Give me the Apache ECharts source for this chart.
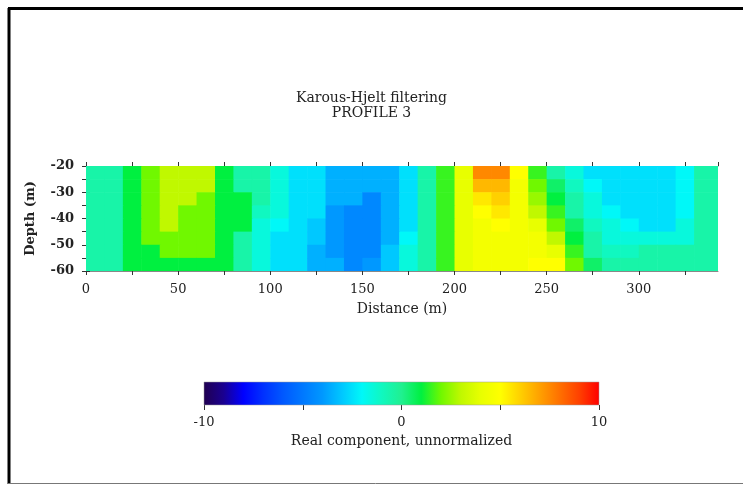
<!DOCTYPE html>
<html>
<head>
<meta charset="utf-8">
<script src="https://cdn.jsdelivr.net/npm/echarts@6/dist/echarts.min.js"></script>
<style>html,body{margin:0;padding:0;background:#fff;}#c{width:743px;height:485px;}</style>
</head>
<body>
<div id="c"></div>
<script>
// Distance (m) of each column centre, depth (m) of each row centre
const distances = [5,15,25,35,45,55,65,75,85,95,105,115,125,135,145,155,165,175,185,195,205,215,225,235,245,255,265,275,285,295,305,315,325,335];
const depths = [-22.5,-27.5,-32.5,-37.5,-42.5,-47.5,-52.5,-57.5];
// Real component values per depth row
const row_22_5 = [-0.5,-0.5,1,2,3,3,3,1,-0.5,-0.5,-1.5,-2.5,-2.5,-3.5,-3.5,-3.5,-3.5,-2.5,-0.5,1.5,4,7.5,7.5,5,1.5,-0.5,-1.5,-2.5,-2.5,-2.5,-2.5,-2.5,-2,-0.5];
const row_27_5 = [-0.5,-0.5,1,2,3,3,3,1,-0.5,-0.5,-1.5,-2.5,-2.5,-3.5,-3.5,-3.5,-3.5,-2.5,-0.5,1.5,4,6.5,6.5,4.5,2,0.5,-1,-2,-2.5,-2.5,-2.5,-2.5,-2,-0.5];
const row_32_5 = [-0.5,-0.5,1,2,3,3,2,1,1,-0.5,-1.5,-2.5,-2.5,-3.5,-3.5,-4.5,-3.5,-2.5,-0.5,1.5,4,5.5,6,4.5,2.5,1,-0.5,-1.5,-2.5,-2.5,-2.5,-2.5,-2,-0.5];
const row_37_5 = [-0.5,-0.5,1,2,3,2,2,1,1,-1,-1.5,-2.5,-2.5,-4,-4.5,-4.5,-3.5,-2.5,-0.5,1.5,4,5,5.5,4.5,3,1.5,-0.5,-1.5,-2,-2.5,-2.5,-2.5,-2,-0.5];
const row_42_5 = [-0.5,-0.5,1,2,3,2,2,1,1,-1.5,-2,-2.5,-3,-4,-4.5,-4.5,-3.5,-2.5,-0.5,1.5,4,4.5,5,4.5,4,2,0.5,-1,-1.5,-2,-2.5,-2.5,-1.5,-0.5];
const row_47_5 = [-0.5,-0.5,1,2,2,2,2,1,-0.5,-1.5,-2.5,-2.5,-3,-4,-4.5,-4.5,-3.5,-2,-0.5,1.5,4,4.5,4.5,4.5,4.5,3,1,-0.5,-1.5,-1.5,-1.5,-1.5,-1.5,-0.5];
const row_52_5 = [-0.5,-0.5,1,1,2,2,2,1,-0.5,-1.5,-2.5,-2.5,-3.5,-4,-4.5,-4.5,-3,-1.5,-0.5,1.5,4,4.5,4.5,4.5,4.5,4,1.5,-0.5,-1,-1,-0.5,-0.5,-0.5,-0.5];
const row_57_5 = [-0.5,-0.5,1,1,1,1,1,1,-0.5,-1.5,-2.5,-2.5,-3.5,-3.5,-4.5,-4,-3,-1.5,-0.5,1.5,4,4.5,4.5,4.5,5,5,2,0.5,-0.5,-0.5,-0.5,-0.5,-0.5,-0.5];
const rows = [row_22_5,row_27_5,row_32_5,row_37_5,row_42_5,row_47_5,row_52_5,row_57_5];
// Axis ticks
const xTicks = [0,50,100,150,200,250,300];
const yTicks = [-60,-50,-40,-30,-20];
const colorbarRange = [-10,10];
const colorbarLabels = [-10,0,10];
// colour scale at integer values -10..10
const cmap = ['#200050','#1a0090','#0000ff','#0030ff','#0058ff','#0078ff','#0098ff','#00c8ff','#00f8f8','#10f8c0','#20f090',
              '#00f040','#70f800','#c0f800','#e8ff00','#ffff00','#ffd000','#ffa000','#ff7000','#ff4000','#ff0000'];

const cellData = [];
rows.forEach((r, i) => r.forEach((v, j) => cellData.push([distances[j], depths[i], v])));
const lastX = distances[distances.length - 1];
const halfW = (distances[1] - distances[0]) / 2;
const halfH = (depths[0] - depths[1]) / 2;
const serif = '"DejaVu Serif","Liberation Serif",serif';

const chart = echarts.init(document.getElementById('c'), null, {renderer: 'canvas'});
chart.setOption({
  animation: false,
  backgroundColor: '#fff',
  title: {
    text: 'Karous-Hjelt filtering\nPROFILE 3',
    left: 'center', top: 86,
    textStyle: {fontFamily: serif, fontWeight: 'normal', fontSize: 14, lineHeight: 15, color: '#222'}
  },
  graphic: [
    {type: 'line', shape: {x1: 9, y1: 8, x2: 9, y2: 484}, style: {stroke: '#000', lineWidth: 3}},
    {type: 'line', shape: {x1: 8, y1: 8.5, x2: 743, y2: 8.5}, style: {stroke: '#000', lineWidth: 3}},
    {type: 'line', shape: {x1: 8, y1: 483.5, x2: 743, y2: 483.5}, style: {stroke: '#777', lineWidth: 1}}
  ],
  grid: [
    {left: 86, right: 25, top: 166, height: 105},
    {left: 204, width: 395, top: 382, height: 23}
  ],
  visualMap: {
    type: 'continuous', show: false, min: colorbarRange[0], max: colorbarRange[1],
    seriesIndex: 0, dimension: 2, inRange: {color: cmap}
  },
  xAxis: [
    {type: 'value', gridIndex: 0, min: 0, max: 343, interval: 25, position: 'bottom',
     name: 'Distance (m)', nameLocation: 'middle', nameGap: 31,
     nameTextStyle: {fontFamily: serif, fontSize: 14, color: '#222'},
     axisLine: {lineStyle: {color: '#888'}},
     axisTick: {inside: false, length: 4, lineStyle: {color: '#333'}},
     splitLine: {show: false},
     axisLabel: {fontFamily: serif, fontSize: 13, color: '#222', margin: 12,
       showMaxLabel: false,
       formatter: v => xTicks.indexOf(v) >= 0 ? String(v) : ''}},
    {type: 'value', gridIndex: 0, min: 0, max: 343, interval: 25, position: 'top',
     axisLine: {lineStyle: {color: '#888'}},
     axisTick: {inside: false, length: 4, lineStyle: {color: '#333'}},
     splitLine: {show: false}, axisLabel: {show: false}},
    {type: 'value', gridIndex: 1, min: colorbarRange[0], max: colorbarRange[1], interval: 5,
     name: 'Real component, unnormalized', nameLocation: 'middle', nameGap: 29,
     nameTextStyle: {fontFamily: serif, fontSize: 14, color: '#222'},
     axisLine: {show: false},
     axisTick: {inside: false, length: 5, lineStyle: {color: '#333'}},
     splitLine: {show: false},
     axisLabel: {fontFamily: serif, fontSize: 13, color: '#222', margin: 11,
       formatter: v => colorbarLabels.indexOf(v) >= 0 ? String(v) : ''}}
  ],
  yAxis: [
    {type: 'value', gridIndex: 0, min: -60, max: -20, interval: 10, position: 'left',
     name: 'Depth (m)', nameLocation: 'middle', nameGap: 49, nameRotate: 90,
     nameTextStyle: {fontFamily: serif, fontSize: 13, fontWeight: 'bold', color: '#222'},
     axisLine: {show: true, lineStyle: {color: '#888'}},
     axisTick: {show: true, inside: false, length: 4, lineStyle: {color: '#333'}},
     minorTick: {show: true, splitNumber: 2, length: 4, lineStyle: {color: '#333'}},
     splitLine: {show: false},
     axisLabel: {fontFamily: serif, fontSize: 13, fontWeight: 'bold', color: '#222', margin: 12,
       formatter: v => yTicks.indexOf(v) >= 0 ? String(v) : ''}},
    {type: 'value', gridIndex: 0, min: -60, max: -20, interval: 5, position: 'right',
     axisLine: {show: true, lineStyle: {color: '#888'}},
     axisTick: {show: true, inside: false, length: 4, lineStyle: {color: '#333'}},
     splitLine: {show: false}, axisLabel: {show: false}},
    {type: 'value', gridIndex: 1, min: 0, max: 1, show: false}
  ],
  series: [
    {
      type: 'custom', xAxisIndex: 0, yAxisIndex: 0, data: cellData, clip: true,
      renderItem: function (params, api) {
        const x = api.value(0), y = api.value(1);
        const cs = params.coordSys;
        const p1 = api.coord([x - halfW, y + halfH]);
        const p2 = api.coord([x + halfW, y - halfH]);
        let right = x === lastX ? cs.x + cs.width : p2[0] + 0.6;
        return {type: 'rect',
          shape: {x: p1[0], y: p1[1], width: right - p1[0], height: p2[1] - p1[1] + 0.6},
          style: {fill: api.visual('color')}};
      },
      z: 1
    },
    {
      type: 'custom', xAxisIndex: 2, yAxisIndex: 2, data: [colorbarRange],
      renderItem: function (params, api) {
        const a = api.coord([api.value(0), 1]);
        const b = api.coord([api.value(1), 0]);
        return {type: 'rect',
          shape: {x: a[0], y: a[1], width: b[0] - a[0], height: b[1] - a[1]},
          style: {
            fill: new echarts.graphic.LinearGradient(0, 0, 1, 0,
              cmap.map((c, i) => ({offset: i / (cmap.length - 1), color: c}))),
            stroke: '#999', lineWidth: 0.5
          }};
      }
    }
  ]
});
</script>
</body>
</html>
